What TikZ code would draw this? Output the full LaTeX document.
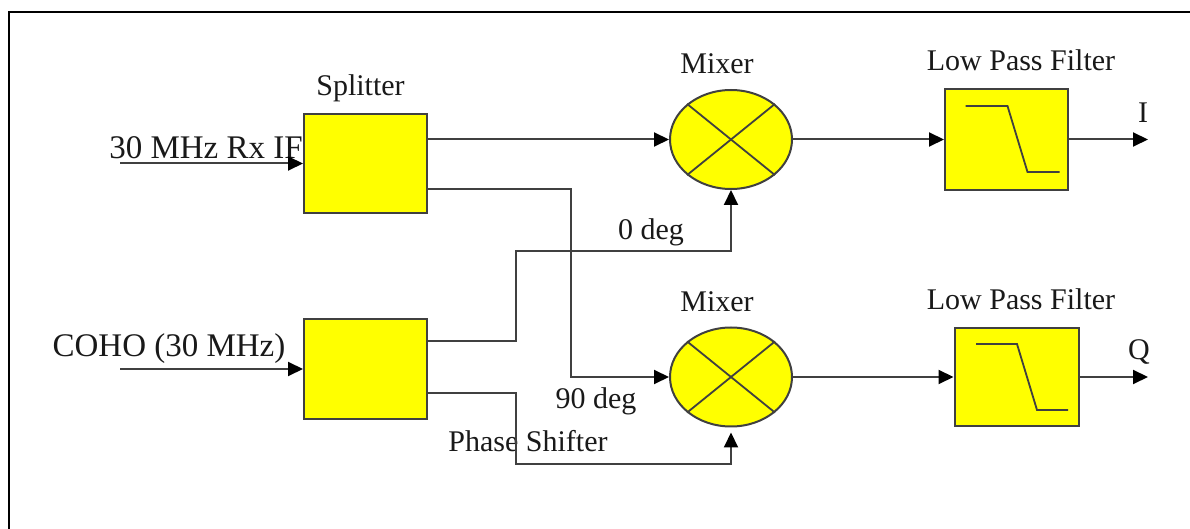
\documentclass[tikz,border=0pt]{standalone}
\usepackage{fontspec}
\setmainfont{Liberation Serif}
\usetikzlibrary{positioning,arrows.meta,shapes}
\definecolor{boxyellow}{RGB}{255,255,0}
\tikzset{
block/.style={draw=black!75, fill=boxyellow, rectangle, line width=1pt, inner sep=0pt},
mixer/.style={draw=black!75, fill=boxyellow, ellipse, line width=1pt, inner sep=0pt, minimum width=61pt, minimum height=49.5pt},
sig/.style={->, draw=black!75, line width=1pt},
curve/.style={draw=black!75, line width=0.9pt},
caption/.style={inner sep=0pt, font=\fontsize{15}{18}\selectfont, text=black!90},
bigcaption/.style={inner sep=0pt, font=\fontsize{16.5}{20}\selectfont, text=black!90},
>={Triangle[length=7.5pt,width=7pt,color=black,fill=black]},
}
\begin{document}
\begin{tikzpicture}[x=0.5pt,y=-0.5pt]
            \useasboundingbox (0,0) rectangle (1190,529);
            \draw[line width=1pt] (9,529) -- (9,12) -- (1190,12);

            \node[bigcaption] (lblrx) at (206,148) {30 MHz Rx IF};
            \node[bigcaption] (lblcoho) at (169,349) {COHO (30 MHz)};

            \node[block, minimum width=61.5pt, minimum height=49.5pt] (splitA) at (365.5,163.5) {};
            \node[block, minimum width=61.5pt, minimum height=50pt] (splitB) at (365.5,369) {};
            \node[mixer] (mixA) at (731,139.5) {};
            \node[mixer] (mixB) at (731,377) {};
            \node[block, minimum width=61.5pt, minimum height=50.5pt] (lpfA) at (1006.5,139.5) {};
            \node[block, minimum width=62pt, minimum height=49pt] (lpfB) at (1016.5,377) {};

            \node[caption, above=5.5pt of splitA.north, xshift=-2.5pt] (lblsplit) {Splitter};
            \node[caption] (lblmixA) at (717,64) {Mixer};
            \node[caption] (lblmixB) at (717,302) {Mixer};
            \node[caption] (lbllpfA) at (1021,60) {Low Pass Filter};
            \node[caption] (lbllpfB) at (1021,299) {Low Pass Filter};
            \node[caption] (lblzero) at (651,232) {0 deg};
            \node[caption] (lblninety) at (596,401) {90 deg};
            \node[caption] (lblshift) at (528,441) {Phase Shifter};
            \node[caption] (lblI) at (1143,113) {I};
            \node[caption] (lblQ) at (1139,352) {Q};

            \coordinate (inA) at (120,163.5);
            \coordinate (inB) at (120,369);
            \coordinate (turnA) at (570.5,300);
            \coordinate (busA) at (516,251);
            \coordinate (busB) at (516,464);
            \coordinate (outA) at (1148,139.5);
            \coordinate (outB) at (1148,377);

            \draw[sig] (inA) -- (splitA.west);
            \draw[sig] (inB) -- (splitB.west);
            \draw[sig] ([yshift=12pt]splitA.east) -- (mixA.west);
            \draw[sig] ([yshift=-12.75pt]splitA.east) -| (turnA) |- (mixB.west);
            \draw[sig] ([yshift=14pt]splitB.east) -| (busA) -| (mixA.south);
            \draw[sig] ([yshift=-12pt]splitB.east) -| (busB) -| ([yshift=-2.5pt]mixB.south);
            \draw[sig] (mixA.east) -- (lpfA.west);
            \draw[sig] (mixB.east) -- (lpfB.west);
            \draw[sig] (lpfA.east) -- (outA);
            \draw[sig] (lpfB.east) -- (outB);

            \draw[curve] (mixA.39) -- (mixA.219);
            \draw[curve] (mixA.141) -- (mixA.321);
            \draw[curve] (mixB.39) -- (mixB.219);
            \draw[curve] (mixB.141) -- (mixB.321);

            \draw[curve] ([shift={(-20.5pt,16.75pt)}]lpfA.center) -- ++(42,0) -- ++(20,66) -- ++(32,0);
            \draw[curve] ([shift={(-20.25pt,16.5pt)}]lpfB.center) -- ++(41,0) -- ++(20,66) -- ++(31,0);
\end{tikzpicture}
\end{document}
